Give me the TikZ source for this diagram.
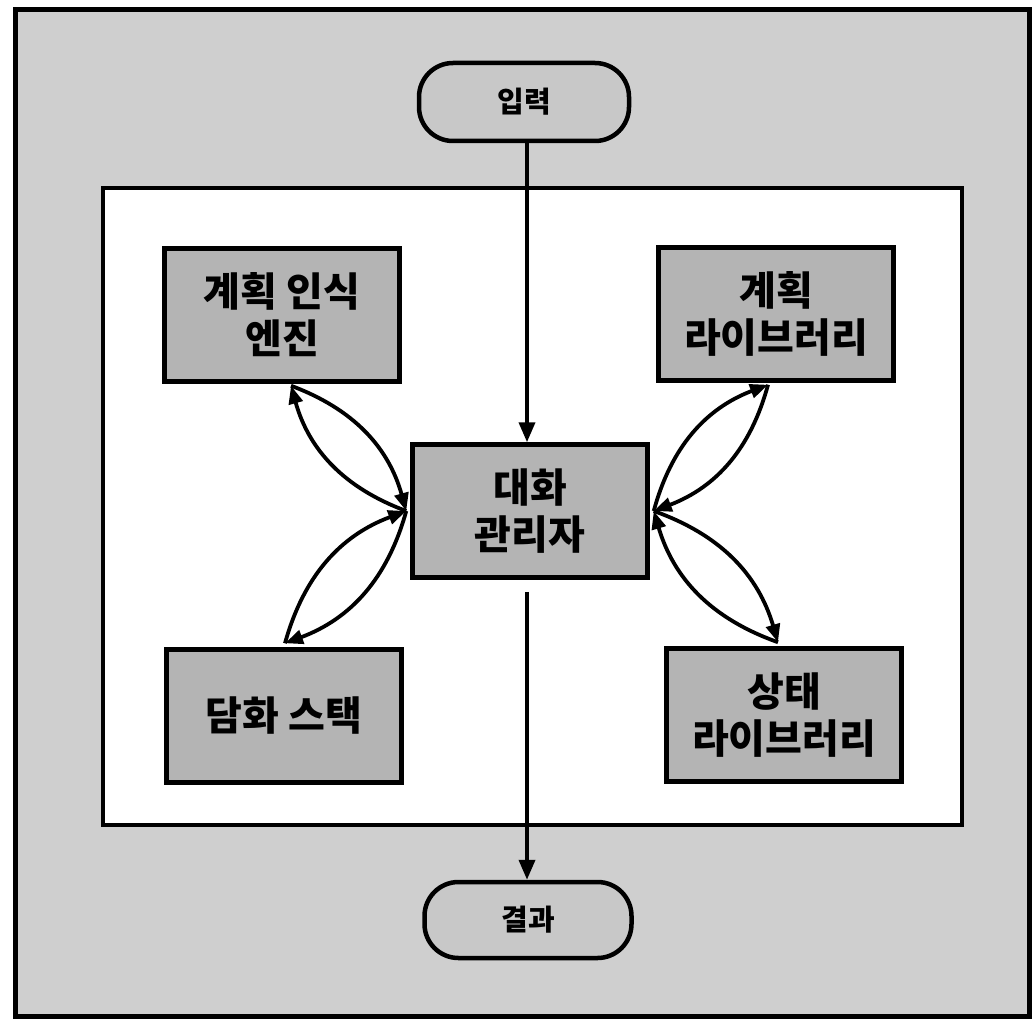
\documentclass[tikz,border=0pt]{standalone}
\usepackage{fontspec}
\newfontfamily\kr{Noto Sans CJK KR}
\usetikzlibrary{arrows.meta,calc}
\definecolor{bggray}{HTML}{CFCFCF}
\definecolor{boxgray}{HTML}{B4B4B4}
\definecolor{pillgray}{HTML}{C8C8C8}
\begin{document}
\begin{tikzpicture}[x=1pt,y=-1pt,
  box/.style={draw, line width=4.5pt, fill=boxgray, minimum width=235pt, minimum height=133pt,
    align=center, font=\kr\bfseries\fontsize{40}{47}\selectfont, inner sep=0pt},
  pill/.style={draw, line width=4.5pt, fill=pillgray, rounded corners=34pt, minimum width=210pt,
    minimum height=78pt, font=\kr\bfseries\fontsize{29}{32}\selectfont, inner sep=0pt},
  arr/.style={line width=3.8pt, -{Triangle[length=20pt,width=16pt]}},
  link/.style={line width=3.8pt, -{Triangle[length=18pt,width=14pt]}}]
\useasboundingbox (0,0) rectangle (1032,1019);
\draw[line width=5pt, fill=bggray] (15,10) rectangle (1029,1016);
\draw[line width=4.5pt, fill=white] (103,188) rectangle (962,825);

\node[pill] (in) at (524,102) {입력};
\node[pill, minimum width=207pt, minimum height=76pt] (out) at (528,920) {결과};

\node[box] (pre) at (282,315) {계획 인식\\엔진};
\node[box] (lib) at (776,314) {계획\\라이브러리};
\node[box] (stack) at (284,716) {담화 스택};
\node[box] (state) at (784,715) {상태\\라이브러리};
\node[box] (mgr) at (530,511) {대화\\관리자};

\draw[arr] (in.south -| 527,0) -- (mgr.north -| 527,0);
\coordinate (mb) at ($(mgr.south -| 527,0)+(0,12)$);
\draw[arr] (mb) -- (out.north -| 527,0);

\coordinate (pa) at ($(pre.south)+(9,2)$);
\coordinate (sa) at ($(stack.north)+(1,-4)$);
\coordinate (la) at ($(lib.south)+(-8,2)$);
\coordinate (ta) at ($(state.north)+(-6,-4)$);
\coordinate (ml) at ($(mgr.west)+(-4,0)$);
\coordinate (mr) at ($(mgr.east)+(4,0)$);

\draw[link] (pa) to[bend left=27] (ml);
\draw[link] (ml) to[bend left=27] (pa);
\draw[link] (ml) to[bend left=27] (sa);
\draw[link] (sa) to[bend left=27] (ml);
\draw[link] (la) to[bend left=27] (mr);
\draw[link] (mr) to[bend left=27] (la);
\draw[link] (mr) to[bend left=27] (ta);
\draw[link] (ta) to[bend left=27] (mr);
\end{tikzpicture}
\end{document}
